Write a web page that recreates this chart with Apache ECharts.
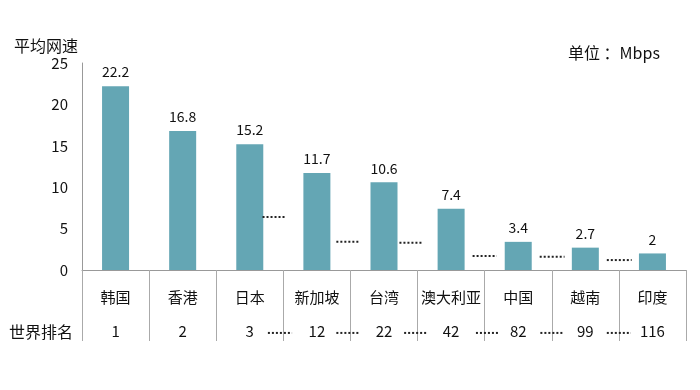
<!DOCTYPE html>
<html>
<head>
<meta charset="utf-8">
<script src="https://cdn.jsdelivr.net/npm/echarts@6/dist/echarts.min.js"></script>
<style>html,body{margin:0;padding:0;background:#fff}#c{width:700px;height:390px}</style>
</head>
<body>
<div id="c"></div>
<script>
var categories = ['韩国','香港','日本','新加坡','台湾','澳大利亚','中国','越南','印度'];
var speeds = [22.2, 16.8, 15.2, 11.7, 10.6, 7.4, 3.4, 2.7, 2];
var ranks = ['1','2','3','12','22','42','82','99','116'];
var yTicks = [0, 5, 10, 15, 20, 25];
// dotted "gap" markers between bars: [from, to, height] in category units / Mbps
var gapDots = [[2.69,3.04,6.4],[3.79,4.13,3.4],[4.73,5.07,3.3],[5.82,6.18,1.7],[6.82,7.19,1.6],[7.82,8.19,1.2]];
// dotted markers in the ranking row: [from, to]
var rankDots = [[2.77,3.13],[3.79,4.13],[4.8,5.15],[5.87,6.22],[6.83,7.16],[7.82,8.18]];
var rankRowLevel = -7.6;

var FONT = '"Noto Sans CJK SC", "Noto Sans", sans-serif';
var chart = echarts.init(document.getElementById('c'));
var series = [{
  type: 'bar',
  data: speeds,
  barWidth: 27,
  itemStyle: {color: '#64a6b4'},
  label: {show: true, position: 'top', distance: 7, color: '#111', fontSize: 14, fontFamily: FONT},
  xAxisIndex: 0, yAxisIndex: 0
}];
gapDots.forEach(function(g){
  series.push({
    type: 'line', xAxisIndex: 1, yAxisIndex: 0, symbol: 'none', silent: true, clip: false,
    data: [[g[0], g[2]], [g[1], g[2]]],
    lineStyle: {color: '#222', width: 2, type: [2, 2]}
  });
});
rankDots.forEach(function(g){
  series.push({
    type: 'line', xAxisIndex: 1, yAxisIndex: 0, symbol: 'none', silent: true, clip: false,
    data: [[g[0], rankRowLevel], [g[1], rankRowLevel]],
    lineStyle: {color: '#222', width: 2, type: [2, 2]}
  });
});
chart.setOption({
  animation: false,
  grid: {left: 82, top: 63, right: 14, bottom: 120},
  title: [
    {text: '平均网速', left: 9, top: 33, textStyle: {fontSize: 16, fontWeight: 'normal', color: '#111', fontFamily: FONT}},
    {text: '单位 ：Mbps', left: 563, top: 40, textStyle: {fontSize: 16, fontWeight: 'normal', color: '#111', fontFamily: FONT}},
    {text: '世界排名', left: 4, top: 319, textStyle: {fontSize: 16, fontWeight: 'normal', color: '#111', fontFamily: FONT}}
  ],
  xAxis: [{
    type: 'category',
    data: categories,
    axisLine: {lineStyle: {color: '#999'}},
    axisTick: {show: true, interval: 0, length: 71, lineStyle: {color: '#aaa'}},
    axisLabel: {
      interval: 0, margin: 10,
      formatter: function(v, i){ return '{a|' + v + '}\n{b|' + ranks[i] + '}'; },
      rich: {
        a: {fontSize: 15, lineHeight: 34, color: '#111', fontFamily: FONT},
        b: {fontSize: 15, lineHeight: 34, color: '#111', fontFamily: FONT}
      }
    }
  }, {
    type: 'value', min: 0, max: 9, show: false
  }],
  yAxis: {
    type: 'value', min: yTicks[0], max: yTicks[yTicks.length-1], interval: 5,
    axisLine: {show: true, lineStyle: {color: '#999'}},
    axisTick: {show: false},
    splitLine: {show: false},
    axisLabel: {fontSize: 15, color: '#111', margin: 14, fontFamily: FONT}
  },
  series: series
});
</script>
</body>
</html>
